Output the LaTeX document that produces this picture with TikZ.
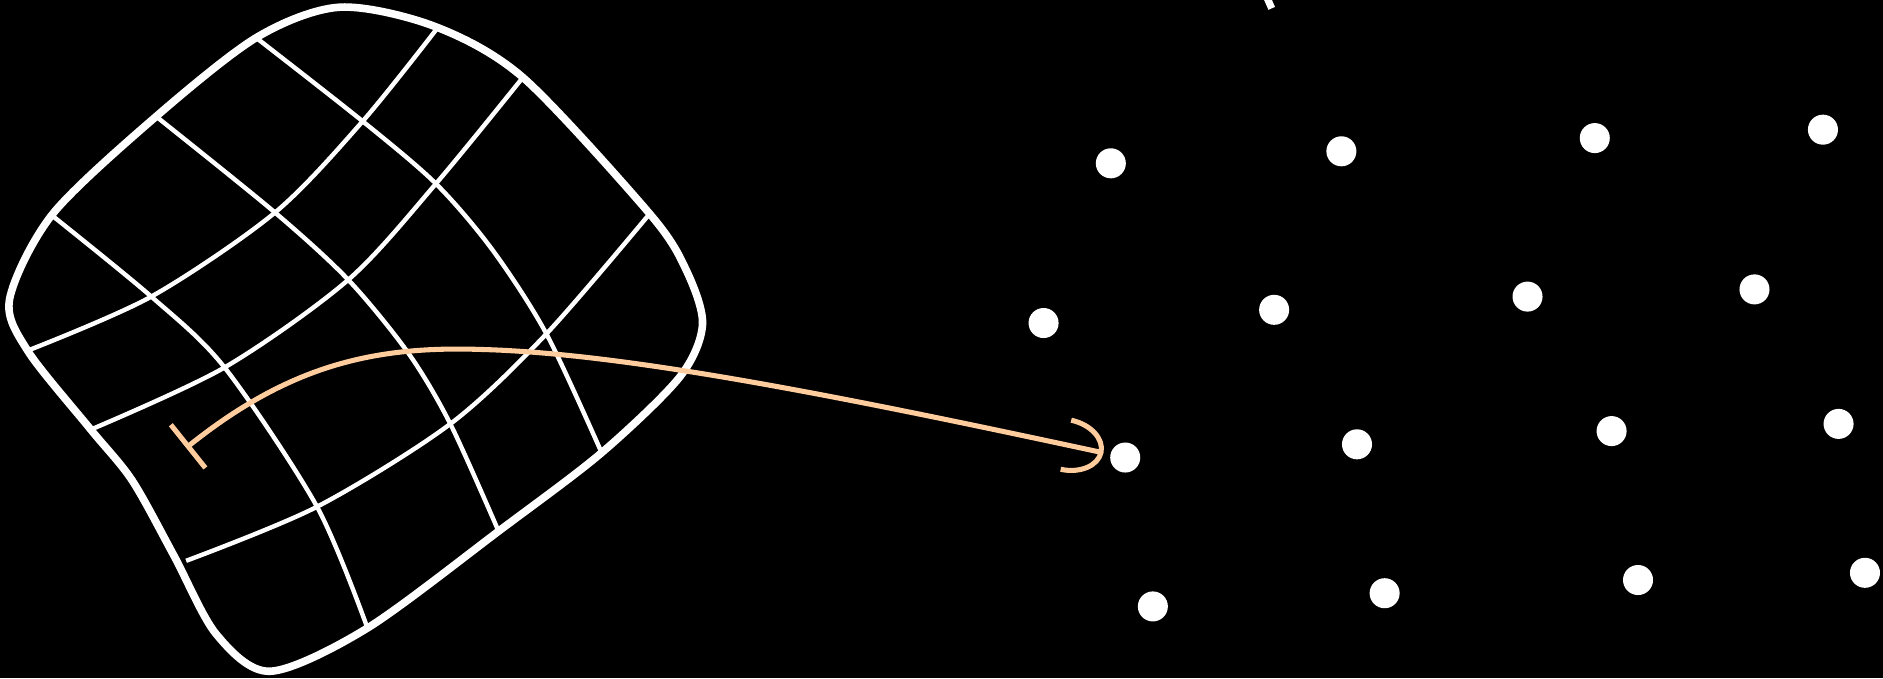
\documentclass[tikz,border=0pt]{standalone}
\usepackage{xcolor}
\usepackage{tikz}
\usetikzlibrary{arrows.meta,positioning}
\definecolor{mappeach}{RGB}{255,204,158}
\colorlet{mapwhite}{white}
\tikzset{
  mapoutline/.style={draw=mapwhite,line width=1.8pt,line join=round},
  mapgrid/.style={draw=mapwhite,line width=1.05pt},
  mapdot/.style={circle,fill=mapwhite,draw=none,inner sep=0pt,minimum size=2.5mm},
  maparrow/.style={{Bar[width=4.6mm]}-{Arc Barb[length=3.2mm,width=4.6mm]},
                   line width=1.2pt,mappeach,shorten >=1.5pt}
}
\begin{document}
\begin{tikzpicture}[x=0.01cm,y=-0.01cm]
  \fill[black] (0,0) rectangle (1568,565);
  \useasboundingbox (0,0) rectangle (1568,565);

  % region with its curved grid
  \draw[mapoutline] plot[smooth cycle,tension=0.5] coordinates {
    (283,6) (362,22) (436,65) (541,178) (571,224) (585,270) (566,314)
    (501,377) (417,441) (306,523) (225,559) (180,528) (145,463) (110,400)
    (75,357) (23,292) (8,249) (44,178) (130,97) (214,31)};

  \coordinate (g11) at (302,101);
  \coordinate (g12) at (363,153);
  \coordinate (g13) at (455,278);
  \coordinate (g21) at (229,177);
  \coordinate (g22) at (290,233);
  \coordinate (g23) at (375,353);
  \coordinate (g31) at (126,247);
  \coordinate (g32) at (187,306);
  \coordinate (g33) at (264,422);

  \draw[mapgrid] plot[smooth] coordinates {(214,32) (g11) (g12) (410,208) (g13) (501,377)};
  \draw[mapgrid] plot[smooth] coordinates {(130,97) (g21) (g22) (340,294) (g23) (415,442)};
  \draw[mapgrid] plot[smooth] coordinates {(44,180) (g31) (g32) (g33) (306,523)};
  \draw[mapgrid] plot[smooth] coordinates {(23,292) (g31) (g21) (g11) (363,25)};
  \draw[mapgrid] plot[smooth] coordinates {(75,358) (g32) (g22) (g12) (435,65)};
  \draw[mapgrid] plot[smooth] coordinates {(155,467) (g33) (g23) (g13) (541,178)};

  % image points
  \node[mapdot] (d11) at (925,136) {};
  \node[mapdot] (d12) at (1117,126) {};
  \node[mapdot] (d13) at (1328,115) {};
  \node[mapdot] (d14) at (1518,108) {};
  \node[mapdot] (d21) at (869,269) {};
  \node[mapdot] (d22) at (1061,258) {};
  \node[mapdot] (d23) at (1272,247) {};
  \node[mapdot] (d24) at (1461,241) {};
  \node[mapdot] (d31) at (937,381) {};
  \node[mapdot] (d32) at (1130,370) {};
  \node[mapdot] (d33) at (1342,359) {};
  \node[mapdot] (d34) at (1531,353) {};
  \node[mapdot] (d41) at (960,505) {};
  \node[mapdot] (d42) at (1153,494) {};
  \node[mapdot] (d43) at (1364,483) {};
  \node[mapdot] (d44) at (1553,477) {};

  \draw[mapwhite,line width=1.7pt] (1055,-2) -- (1059,7);

  \coordinate (src) at (155,373);
  \draw[maparrow] (src) .. controls (240,305) and (310,288) .. (400,291)
    .. controls (520,294) and (700,330) .. (d31);
\end{tikzpicture}
\end{document}
